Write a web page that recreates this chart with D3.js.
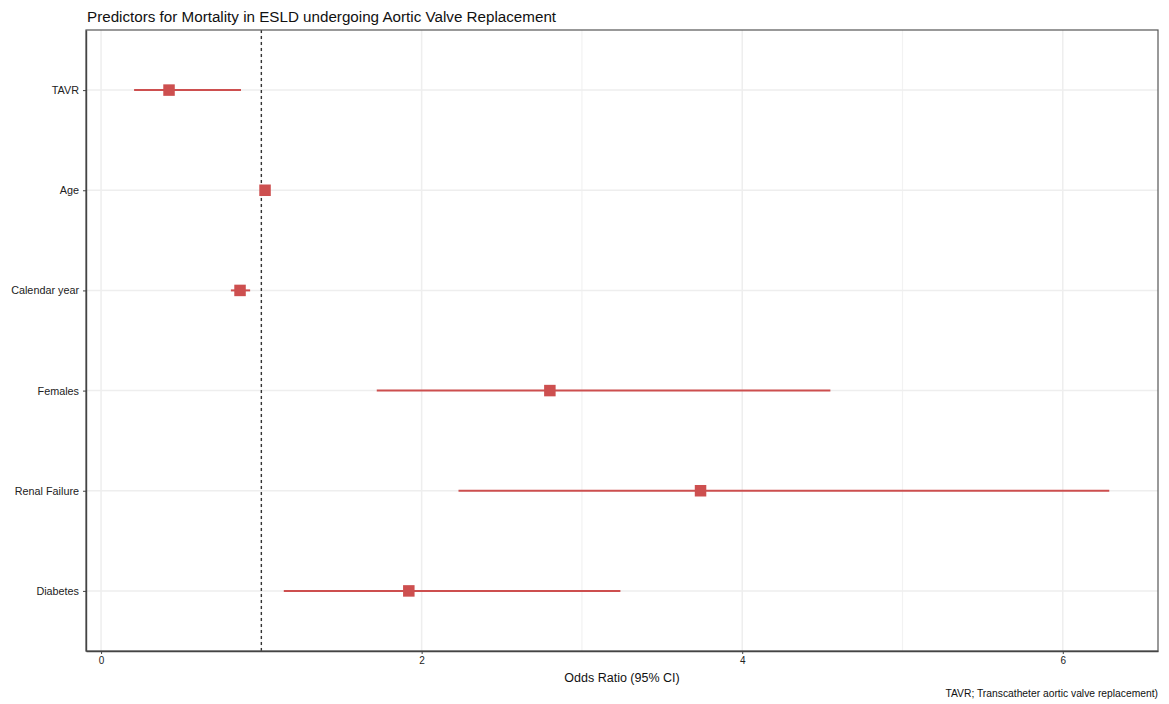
<!DOCTYPE html>
<html><head><meta charset="utf-8">
<script src="https://cdn.jsdelivr.net/npm/d3@7"></script>
<style>body{margin:0;background:#fff;} text{font-family:"Liberation Sans",Arial,sans-serif;}</style>
</head><body>
<svg id="c" width="1169" height="704"></svg>
<script>
const predictors = ["TAVR","Age","Calendar year","Females","Renal Failure","Diabetes"];
const oddsRatio = [0.424, 1.023, 0.867, 2.80, 3.74, 1.92];
const lowerCI   = [0.206, 1.005, 0.81, 1.72, 2.23, 1.14];
const upperCI   = [0.873, 1.04, 0.93, 4.55, 6.29, 3.24];
const xTicks = [0, 2, 4, 6];
const xMinorTicks = [1, 3, 5];
const refLine = 1;

const svg = d3.select("#c");
const L = 86, R = 1158, T = 30, B = 651;
const x = d3.scaleLinear().domain([-0.094, 6.594]).range([L, R]);
const y = d3.scalePoint().domain(predictors).range([T, B]).padding(0.6);

// grid
const g = svg.append("g");
g.selectAll(".vmin").data(xMinorTicks).join("line")
  .attr("x1", d => x(d)).attr("x2", d => x(d)).attr("y1", T).attr("y2", B)
  .attr("stroke", "#f2f2f2").attr("stroke-width", 1.2);
g.selectAll(".vmaj").data(xTicks).join("line")
  .attr("x1", d => x(d)).attr("x2", d => x(d)).attr("y1", T).attr("y2", B)
  .attr("stroke", "#eeeeee").attr("stroke-width", 1.5);
g.selectAll(".h").data(predictors).join("line")
  .attr("x1", L).attr("x2", R).attr("y1", d => y(d)).attr("y2", d => y(d))
  .attr("stroke", "#eeeeee").attr("stroke-width", 1.5);

// reference line
svg.append("line").attr("x1", x(refLine)).attr("x2", x(refLine)).attr("y1", T).attr("y2", B)
  .attr("stroke", "#333").attr("stroke-width", 1.4).attr("stroke-dasharray", "3,3");

// CIs
const col = "#cd4f4f";
svg.selectAll(".ci").data(predictors).join("line")
  .attr("x1", (d,i) => x(lowerCI[i])).attr("x2", (d,i) => x(upperCI[i]))
  .attr("y1", d => y(d)).attr("y2", d => y(d))
  .attr("stroke", col).attr("stroke-width", 2);
const s = 11.5;
svg.selectAll(".pt").data(predictors).join("rect")
  .attr("x", (d,i) => x(oddsRatio[i]) - s/2).attr("y", d => y(d) - s/2)
  .attr("width", s).attr("height", s).attr("fill", col);

// panel border
svg.append("rect").attr("x", L).attr("y", T).attr("width", R - L).attr("height", B - T)
  .attr("fill", "none").attr("stroke", "#555").attr("stroke-width", 1.2);

// axes
const xa = svg.append("g").attr("transform", `translate(0,${B})`)
  .call(d3.axisBottom(x).tickValues(xTicks).tickFormat(d3.format("d")).tickSize(3).tickSizeOuter(0).tickPadding(3));
xa.select(".domain").attr("stroke", "#444").attr("stroke-width", 1.4);
xa.selectAll(".tick line").attr("stroke", "#444");
xa.selectAll("text").attr("font-size", 10).attr("fill", "#222").attr("font-family", "Liberation Sans, Arial, sans-serif");

const ya = svg.append("g").attr("transform", `translate(${L},0)`)
  .call(d3.axisLeft(y).tickSize(3).tickSizeOuter(0).tickPadding(4));
ya.select(".domain").attr("stroke", "#444").attr("stroke-width", 1.4);
ya.selectAll(".tick line").attr("stroke", "#444");
ya.selectAll("text").attr("font-size", 10.8).attr("fill", "#222").attr("font-family", "Liberation Sans, Arial, sans-serif");

// titles
svg.append("text").attr("x", 87).attr("y", 22).attr("font-size", 15.2).attr("fill", "#111")
  .text("Predictors for Mortality in ESLD undergoing Aortic Valve Replacement");
svg.append("text").attr("x", (L + R) / 2).attr("y", 682).attr("text-anchor", "middle")
  .attr("font-size", 12.5).attr("fill", "#111").text("Odds Ratio (95% CI)");
svg.append("text").attr("x", R).attr("y", 697).attr("text-anchor", "end")
  .attr("font-size", 10.3).attr("fill", "#111").text("TAVR; Transcatheter aortic valve replacement)");
</script>
</body></html>
